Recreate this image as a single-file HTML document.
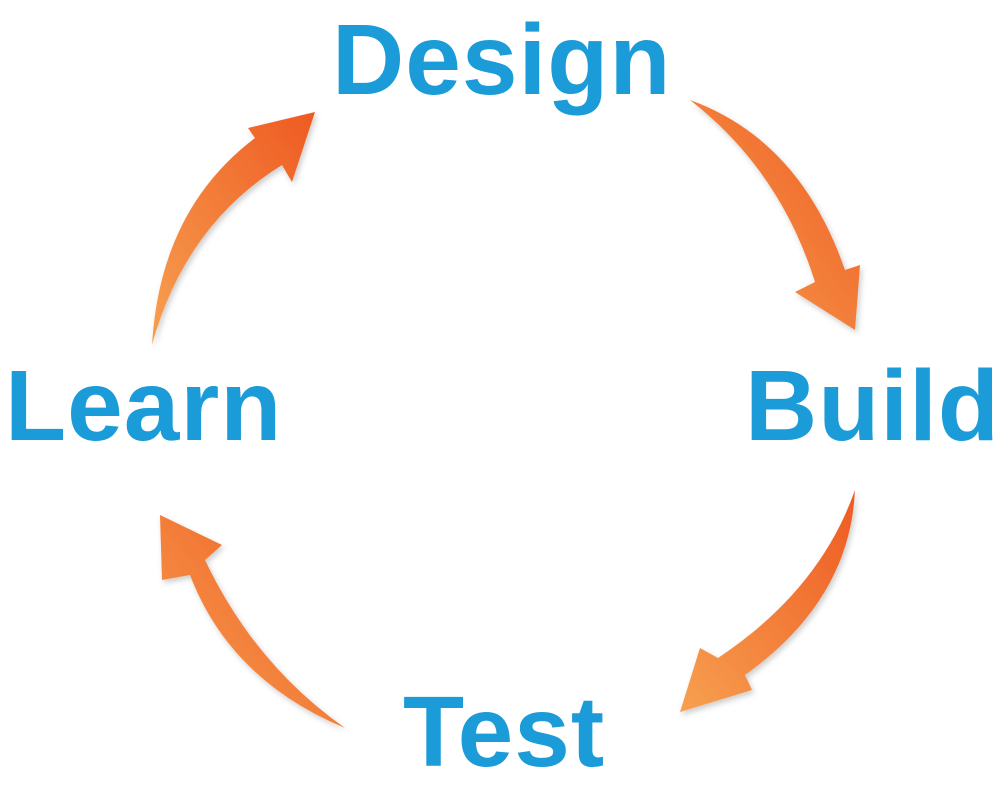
<!DOCTYPE html>
<html><head><meta charset="utf-8"><style>
html,body{margin:0;padding:0;background:#fff;}
.wrap{position:relative;width:1000px;height:794px;overflow:hidden;}
.t{position:absolute;font-family:"Liberation Sans",sans-serif;font-weight:bold;color:#1b9bd7;font-size:100px;line-height:1;letter-spacing:1px;}
svg{position:absolute;left:0;top:0;}
</style></head><body><div class="wrap">
<svg width="1000" height="794" viewBox="0 0 1000 794">
<defs>
<linearGradient id="g" x1="0" y1="1" x2="1" y2="0">
<stop offset="0" stop-color="#f7a050"/><stop offset="1" stop-color="#ee5a22"/></linearGradient>
<filter id="s" x="-20%" y="-20%" width="140%" height="140%"><feDropShadow dx="2" dy="3" stdDeviation="3" flood-color="#000" flood-opacity="0.2"/></filter>
</defs>
<g fill="url(#g)" filter="url(#s)">
<path d="M152,345 Q160,210 255,138 L248,128 L315,112 L292,182 L282,165 Q185,225 152,345 Z"/>
<path d="M690,100 Q800,140 845,270 L860,265 L855,330 L795,292 L815,282 Q780,170 690,100 Z"/>
<path d="M855,490 Q850,600 745,675 L752,690 L680,712 L700,648 L718,658 Q820,590 855,490 Z"/>
<path d="M345,728 Q230,680 190,575 L162,580 L160,515 L222,545 L205,560 Q255,665 345,728 Z"/>
</g>
</svg>
<div class="t" style="left:332px;top:10px;">Design</div>
<div class="t" style="left:5px;top:356px;">Learn</div>
<div class="t" style="left:745px;top:356px;">Build</div>
<div class="t" style="left:403px;top:682px;">Test</div>
</div></body></html>
